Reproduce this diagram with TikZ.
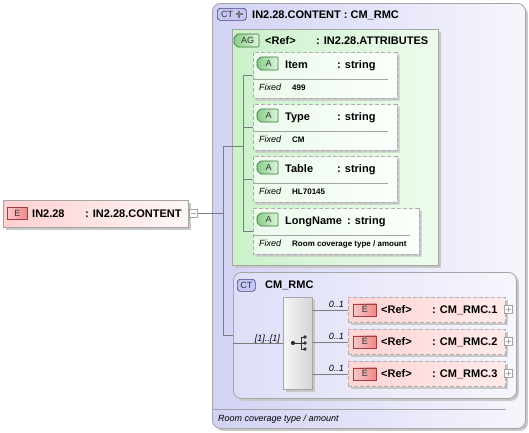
\documentclass[tikz,border=0pt]{standalone}
\usepackage{fontspec}
\setmainfont{Liberation Sans}
\usetikzlibrary{shapes.misc,shadows}
\definecolor{outerL}{RGB}{210,210,245}
\definecolor{outerR}{RGB}{246,246,253}
\definecolor{agL}{RGB}{202,241,202}
\definecolor{agR}{RGB}{238,252,238}
\definecolor{attL}{RGB}{236,250,236}
\definecolor{attR}{RGB}{251,255,251}
\definecolor{rmcL}{RGB}{222,222,248}
\definecolor{rmcR}{RGB}{246,246,253}
\definecolor{elL}{RGB}{255,212,212}
\definecolor{elR}{RGB}{255,234,234}
\definecolor{mainL}{RGB}{255,208,208}
\definecolor{mainR}{RGB}{255,247,247}
\definecolor{seqL}{RGB}{246,246,246}
\definecolor{seqR}{RGB}{212,212,212}
\definecolor{boxgray}{RGB}{165,165,165}
\definecolor{dashgray}{RGB}{175,175,175}
\definecolor{linegray}{RGB}{125,125,125}
\definecolor{ebL}{RGB}{250,200,200}
\definecolor{ebR}{RGB}{236,136,136}
\definecolor{ebD}{RGB}{165,60,60}
\definecolor{abL}{RGB}{135,205,135}
\definecolor{abR}{RGB}{222,247,222}
\definecolor{abD}{RGB}{60,115,60}
\definecolor{ctF}{RGB}{198,198,245}
\definecolor{ctD}{RGB}{70,70,125}
\definecolor{shadowgray}{RGB}{200,200,200}
\tikzset{
  shad/.style={drop shadow={shadow xshift=2.5pt,shadow yshift=-2.5pt,fill=shadowgray,opacity=1}},
  outerbox/.style={draw=boxgray,line width=0.8pt,rounded corners=8pt,left color=outerL,right color=outerR,anchor=north west,inner sep=0pt,shad},
  agbox/.style={chamfered rectangle,chamfered rectangle corners={south west},chamfered rectangle sep=12pt,draw=boxgray,line width=0.8pt,left color=agL,right color=agR,anchor=north west,inner sep=0pt,shad},
  attbox/.style={chamfered rectangle,chamfered rectangle corners={north west,south west},chamfered rectangle sep=5pt,draw=dashgray,line width=0.8pt,dash pattern=on 4pt off 2pt,left color=attL,right color=attR,anchor=north west,inner sep=0pt,minimum height=46pt,shad},
  rmcbox/.style={draw=boxgray,line width=0.8pt,rounded corners=8pt,left color=rmcL,right color=rmcR,anchor=north west,inner sep=0pt,shad},
  elbox/.style={draw=dashgray,line width=0.8pt,dash pattern=on 4pt off 2pt,left color=elL,right color=elR,anchor=north west,inner sep=0pt,minimum width=157pt,minimum height=25pt,shad},
  mainbox/.style={draw=boxgray,line width=0.8pt,left color=mainL,right color=mainR,anchor=north west,inner sep=0pt,shad},
  seqbox/.style={draw=boxgray,line width=0.8pt,left color=seqL,right color=seqR,anchor=north west,inner sep=0pt,minimum width=29pt,minimum height=92pt,shad},
  btext/.style={font=\fontsize{9}{10}\selectfont,text=black!80,inner sep=0pt},
  ebadge/.style={draw=ebD,line width=0.7pt,left color=ebL,right color=ebR,anchor=north west,inner sep=0pt,minimum width=23pt,minimum height=12pt,btext},
  apath/.style={draw=abD,line width=0.7pt,left color=abL,right color=abR,rounded corners=1pt},
  ctbadge/.style={draw=ctD,line width=0.7pt,fill=ctF,rounded corners=3pt,anchor=north west,inner sep=0pt,minimum height=12pt,btext},
  bold/.style={font=\fontsize{11}{13}\selectfont\bfseries,inner sep=0pt,anchor=base west},
  small/.style={font=\fontsize{8}{9}\selectfont\bfseries,inner sep=0pt,anchor=base west},
  ital/.style={font=\fontsize{9}{10}\selectfont\itshape,inner sep=0pt,anchor=base west},
  italr/.style={font=\fontsize{9}{10}\selectfont\itshape,inner sep=0pt,anchor=base east},
  conn/.style={draw=linegray,line width=0.7pt},
  pm/.style={draw=boxgray,line width=0.6pt,fill=white,inner sep=0pt,minimum width=8pt,minimum height=8pt,anchor=west},
}
% chamfered badge: name, x, y, w, h, text
\newcommand{\ABadge}[6]{%
  \path[apath] (#2+3.5,#3) -- (#2+#4,#3) -- (#2+#4,#3+#5) -- (#2+3.5,#3+#5) -- (#2,#3+#5-3.5) -- (#2,#3+3.5) -- cycle;
  \node[btext] (#1) at (#2+#4/2+1,#3+#5/2) {#6};
}
\newcommand{\AttBox}[6]{%
  \node[attbox,minimum width=#5pt] (#1) at (253,#2) {};
  \ABadge{#1b}{257}{#2+5}{21}{13}{A}
  \node[bold] (#1n) at (285,#2+16) {#3};
  \node[bold] (#1t) at (#6,#2+16) {: string};
  \draw[draw=boxgray,line width=0.7pt] (253,#2+27) coordinate (#1sl) -- (253+#5-9,#2+27) coordinate (#1sr);
  \node[ital] (#1f) at (259,#2+38) {Fixed};
  \node[small] (#1v) at (292,#2+38) {#4};
  \coordinate (#1c) at (243,#2+23);
}
\newcommand{\ElBox}[3]{%
  \node[elbox] (#1) at (348,#2) {};
  \node[ebadge] (#1b) at (353,#2+6.5) {E};
  \node[bold] (#1r) at (381,#2+16) {<Ref>};
  \node[bold] (#1t) at (432,#2+16) {: CM\_RMC.#3};
  \node[italr] (#1m) at (344,#2+10) {0..1};
  \node[pm] (#1p) at (504,#2+12.5) {};
  \draw[draw=boxgray,line width=0.6pt] ([xshift=-2.2pt]#1p.center) -- ([xshift=2.2pt]#1p.center);
  \draw[draw=boxgray,line width=0.6pt] ([yshift=-2.2pt]#1p.center) -- ([yshift=2.2pt]#1p.center);
}
\begin{document}
\begin{tikzpicture}[x=1pt,y=-1pt]
\useasboundingbox[fill=white] (0,0) rectangle (529,432);
% outer complex type
\node[outerbox,minimum width=313pt,minimum height=425pt] (outer) at (212,3) {};
\node[ctbadge,minimum width=29pt] (ctp) at (217,8) {};
\node[btext] (ctpt) at (227,14) {CT};
\draw[draw=black!55,line width=2.4pt] (235.5,14) -- (242.5,14);
\draw[draw=black!55,line width=2.4pt] (239,10.5) -- (239,17.5);
\node[bold] (ttl) at (252,18) {IN2.28.CONTENT : CM\_RMC};
% attribute group
\node[agbox,minimum width=206pt,minimum height=236pt] (ag) at (232,29) {};
\ABadge{agb}{234}{34}{25}{13}{AG}
\node[bold] (agr) at (265,44) {<Ref>};
\node[bold] (agt) at (316,44) {: IN2.28.ATTRIBUTES};
\AttBox{item}{52}{Item}{499}{144}{337}
\AttBox{type}{104}{Type}{CM}{144}{337}
\AttBox{table}{156}{Table}{HL70145}{144}{337}
\AttBox{lname}{208}{LongName}{Room coverage type / amount}{166}{347}
% attribute connectors
\draw[conn] (itemc) -- (lnamec);
\foreach \a in {item,type,table,lname} \draw[conn] (\a c) -- (\a c -| \a.west);
% CM_RMC
\node[rmcbox,minimum width=283pt,minimum height=126pt] (rmc) at (233,272) {};
\node[ctbadge,minimum width=18pt] (ctb) at (237,279) {CT};
\node[bold] (rmct) at (265,288) {CM\_RMC};
\node[seqbox] (seq) at (283,297) {};
\fill[black!80] (293,343) circle (2.1pt);
\draw[black!80,line width=0.9pt] (293,343) -- (301,343) (301,337) -- (301,349) (301,337) -- (305,337) (301,349) -- (305,349) (301,343) -- (305,343);
\foreach \yy in {337,343,349} \fill[black!80] (305,\yy) circle (1.8pt);
\node[italr] (mult) at (280,341) {[1]..[1]};
\draw[conn] (rmc.west |- seq.west) -- (seq.west);
\ElBox{e1}{297}{1}
\ElBox{e2}{329}{2}
\ElBox{e3}{361}{3}
\foreach \e in {e1,e2,e3} \draw[conn] (\e.west -| seq.east) -- (\e.west);
% bottom doc
\draw[draw=boxgray,line width=0.7pt] (213,409) coordinate (docl) -- (506,409) coordinate (docr);
\node[ital] (doc) at (218,421) {Room coverage type / amount};
% main element
\node[mainbox,minimum width=185pt,minimum height=27pt] (main) at (3,200) {};
\node[ebadge,minimum width=20pt,minimum height=12pt] (mainb) at (7,207) {E};
\node[bold] (mainn) at (32,217) {IN2.28};
\node[bold] (maint) at (85,217) {: IN2.28.CONTENT};
\node[pm] (mm) at (189,213.5) {};
\draw[draw=boxgray,line width=0.6pt] ([xshift=-2.2pt]mm.center) -- ([xshift=2.2pt]mm.center);
% main connectors
\coordinate (j) at (223,213.5);
\coordinate (jt) at (223,146);
\coordinate (jb) at (223,335);
\coordinate (agin) at (243,146);
\draw[conn] (mm.east) -- (j);
\draw[conn] (jt) -- (jb);
\draw[conn] (jt) -- (agin);
\draw[conn] (jb) -- (jb -| rmc.west);
\end{tikzpicture}
\end{document}
